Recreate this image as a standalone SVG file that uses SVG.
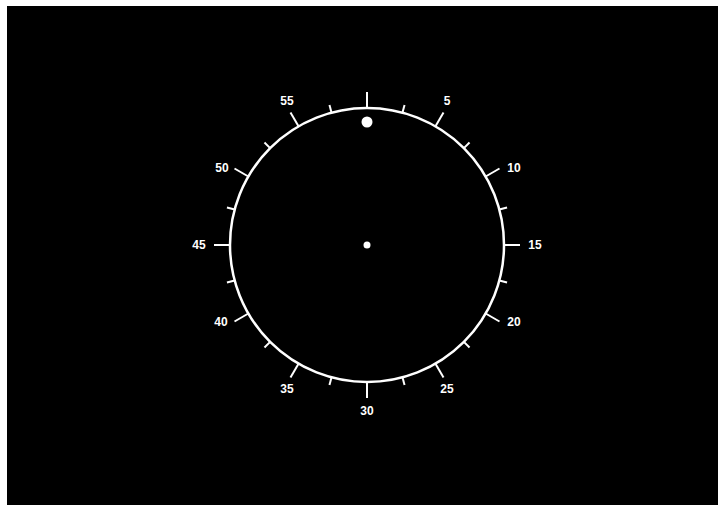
<svg xmlns="http://www.w3.org/2000/svg" width="718" height="505" viewBox="0 0 718 505">
<style>
.major{stroke:#fff;stroke-width:2;}
.minor{stroke:#fff;stroke-width:2;}
.lbl{fill:#fff;font-family:"Liberation Sans",Arial,sans-serif;font-weight:bold;font-size:12px;text-anchor:middle;dominant-baseline:central;}
</style>
<rect x="0" y="0" width="718" height="505" fill="#fff"/>
<rect x="7" y="6" width="711" height="499" fill="#000"/>
<g id="dial">
<circle cx="367" cy="245" r="137" fill="none" stroke="#fff" stroke-width="2.5"/>
<g id="majorTicks" transform="translate(367 245)">
<line class="major" x1="0" y1="-137" x2="0" y2="-153" transform="rotate(0)"/>
<line class="major" x1="0" y1="-137" x2="0" y2="-153" transform="rotate(30)"/>
<line class="major" x1="0" y1="-137" x2="0" y2="-153" transform="rotate(60)"/>
<line class="major" x1="0" y1="-137" x2="0" y2="-153" transform="rotate(90)"/>
<line class="major" x1="0" y1="-137" x2="0" y2="-153" transform="rotate(120)"/>
<line class="major" x1="0" y1="-137" x2="0" y2="-153" transform="rotate(150)"/>
<line class="major" x1="0" y1="-137" x2="0" y2="-153" transform="rotate(180)"/>
<line class="major" x1="0" y1="-137" x2="0" y2="-153" transform="rotate(210)"/>
<line class="major" x1="0" y1="-137" x2="0" y2="-153" transform="rotate(240)"/>
<line class="major" x1="0" y1="-137" x2="0" y2="-153" transform="rotate(270)"/>
<line class="major" x1="0" y1="-137" x2="0" y2="-153" transform="rotate(300)"/>
<line class="major" x1="0" y1="-137" x2="0" y2="-153" transform="rotate(330)"/>
</g>
<g id="minorTicks" transform="translate(367 245)">
<line class="minor" x1="0" y1="-137" x2="0" y2="-145" transform="rotate(15)"/>
<line class="minor" x1="0" y1="-137" x2="0" y2="-145" transform="rotate(45)"/>
<line class="minor" x1="0" y1="-137" x2="0" y2="-145" transform="rotate(75)"/>
<line class="minor" x1="0" y1="-137" x2="0" y2="-145" transform="rotate(105)"/>
<line class="minor" x1="0" y1="-137" x2="0" y2="-145" transform="rotate(135)"/>
<line class="minor" x1="0" y1="-137" x2="0" y2="-145" transform="rotate(165)"/>
<line class="minor" x1="0" y1="-137" x2="0" y2="-145" transform="rotate(195)"/>
<line class="minor" x1="0" y1="-137" x2="0" y2="-145" transform="rotate(225)"/>
<line class="minor" x1="0" y1="-137" x2="0" y2="-145" transform="rotate(255)"/>
<line class="minor" x1="0" y1="-137" x2="0" y2="-145" transform="rotate(285)"/>
<line class="minor" x1="0" y1="-137" x2="0" y2="-145" transform="rotate(315)"/>
<line class="minor" x1="0" y1="-137" x2="0" y2="-145" transform="rotate(345)"/>
</g>
<g id="labels">
<text class="lbl" x="447" y="101">5</text>
<text class="lbl" x="514" y="168">10</text>
<text class="lbl" x="535" y="245">15</text>
<text class="lbl" x="514" y="322">20</text>
<text class="lbl" x="447" y="389">25</text>
<text class="lbl" x="367" y="411">30</text>
<text class="lbl" x="287" y="389">35</text>
<text class="lbl" x="221" y="322">40</text>
<text class="lbl" x="199" y="245">45</text>
<text class="lbl" x="222" y="168">50</text>
<text class="lbl" x="287" y="101">55</text>
</g>
<circle id="marker" cx="367" cy="122" r="5.5" fill="#fff"/>
<circle id="center" cx="367" cy="245" r="3.5" fill="#fff"/>
</g>
</svg>
